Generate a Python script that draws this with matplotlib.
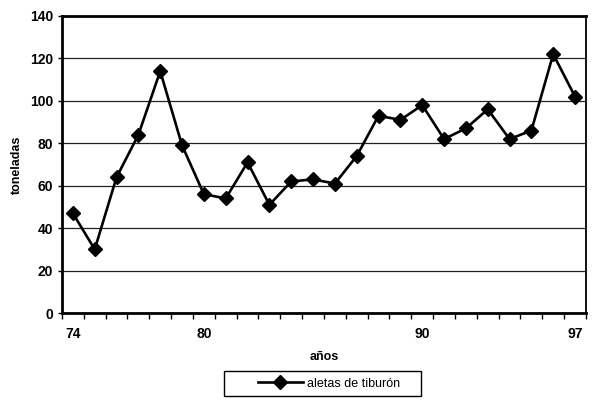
import numpy as np
import matplotlib.pyplot as plt
from matplotlib.ticker import FixedLocator
from matplotlib.patches import Rectangle

years = list(range(74, 98))
toneladas = [47, 30, 64, 84, 114, 79, 56, 54, 71, 51, 62, 63, 61, 74,
             93, 91, 98, 82, 87, 96, 82, 86, 122, 102]
year_labels = [74, 80, 90, 97]

plt.rcParams['font.family'] = ['Liberation Sans', 'DejaVu Sans']

fig = plt.figure(figsize=(6, 4.09), dpi=100)
ax = fig.add_axes([0.1033, 0.2347, 0.8733, 0.7262])

x = np.arange(len(years))
line, = ax.plot(x, toneladas, color='black', linewidth=1.9, marker='D',
                markersize=7, label='aletas de tiburón')

ax.set_xlim(-0.5, len(years) - 0.5)
ax.set_ylim(0, 140)
ax.set_yticks(range(0, 141, 20))
ax.yaxis.grid(True, color='#222222', linewidth=0.9)
ax.set_axisbelow(True)

# etiquetas solo en algunos años, marcas en los limites de categoria
ax.set_xticks([years.index(y) for y in year_labels])
ax.set_xticklabels([str(y) for y in year_labels])
ax.tick_params(axis='x', which='major', length=0, pad=10)
ax.xaxis.set_minor_locator(FixedLocator(np.arange(-0.5, len(years), 1)))
ax.tick_params(axis='x', which='minor', length=4, width=1, direction='out')
ax.tick_params(axis='y', length=3, width=1)
for lab in ax.get_xticklabels() + ax.get_yticklabels():
    lab.set_fontsize(10)
    lab.set_fontweight('bold')

for side in ['left', 'bottom', 'top']:
    ax.spines[side].set_linewidth(2)
ax.spines['right'].set_linewidth(1.3)

ax.set_xlabel('años', fontsize=9, fontweight='bold', labelpad=7)
ax.set_ylabel('toneladas', fontsize=9, fontweight='bold', labelpad=5)

# leyenda sin marco y recuadro dibujado aparte (mas ancho)
fig.legend(handles=[line], loc='center', bbox_to_anchor=(0.548, 0.0623),
           frameon=False, fontsize=9, handlelength=3.6, handletextpad=0.3)
fig.patches.append(Rectangle((0.3733, 0.0318), 0.3283, 0.0611,
                             transform=fig.transFigure, fill=False,
                             edgecolor='black', linewidth=1))

fig.savefig('out.png', dpi=100)
